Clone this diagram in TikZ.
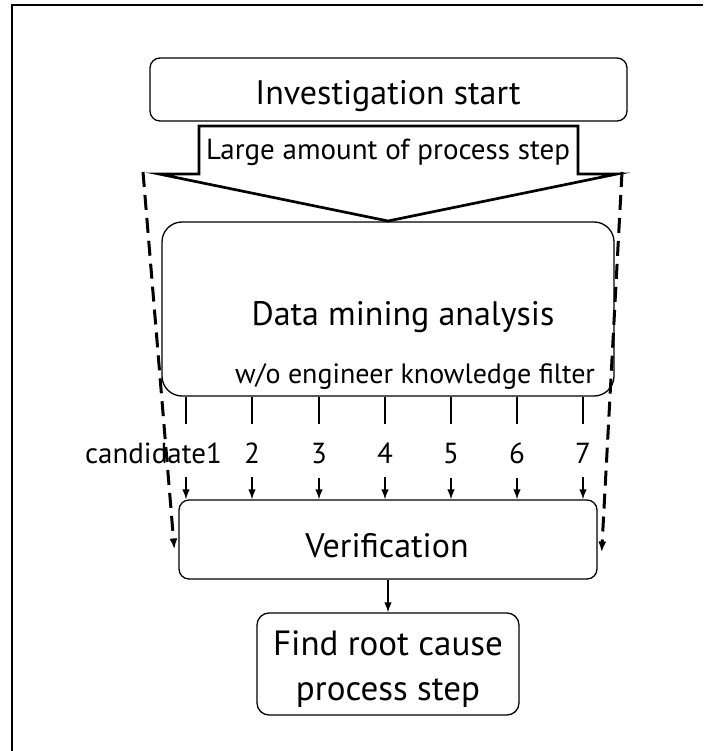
\documentclass[tikz,border=0pt]{standalone}
\usepackage{fontspec}
\setmainfont{PT Sans}
\usetikzlibrary{arrows.meta}
\begin{document}
\begin{tikzpicture}[x=1pt,y=-1pt,
  box/.style={draw, line width=1.3pt, inner sep=0pt},
  bigtxt/.style={inner sep=0pt, anchor=base, font=\fontsize{34}{40}\selectfont},
  findtxt/.style={inner sep=0pt, anchor=base, font=\fontsize{35}{40}\selectfont},
  midtxt/.style={inner sep=0pt, anchor=base, font=\fontsize{29}{34}\selectfont},
  wotxt/.style={inner sep=0pt, anchor=base, font=\fontsize{28}{34}\selectfont},
  lab/.style={inner sep=0pt, anchor=base, font=\fontsize{29}{34}\selectfont},
  conn/.style={line width=1.3pt},
  arr/.style={line width=1.3pt, -{Latex[length=10pt,width=7.5pt]}},
  dasharr/.style={line width=3pt, dash pattern=on 15pt off 8pt, -{Latex[length=11pt,width=8pt]}},
  frame/.style={line width=2pt}]
\useasboundingbox (0,0) rectangle (703,751);
% outer frame (top and left only)
\draw[frame] (12,751) -- (12,5) -- (703,5);

% Investigation start
\node[box, rounded corners=10pt, minimum width=477pt, minimum height=63pt] (inv) at (388.5,89.5) {};
\node[bigtxt] (invt) at (388,105) {Investigation start};

% big down arrow
\draw[line width=2.7pt, line join=miter] (199,126) -- (578,126) -- (578,174) -- (617,174)
  -- (388,221) -- (159,174) -- (199,174) -- cycle;
\coordinate (tip) at (388,221);
\node[midtxt] (large) at (388,160) {Large amount of process step};

% Data mining box
\node[box, rounded corners=20pt, minimum width=452pt, minimum height=174pt] (data) at (388,309) {};
\node[bigtxt] (datat) at (403,325) {Data mining analysis};
\node[wotxt] (wo) at (415,383) {w/o engineer knowledge filter};

% Verification box
\node[box, rounded corners=10pt, minimum width=418pt, minimum height=79pt] (ver) at (388,539.5) {};
\node[bigtxt] (vert) at (387,557) {Verification};

% Find root cause box
\node[box, rounded corners=12pt, minimum width=262pt, minimum height=102pt] (find) at (388,664) {};
\node[findtxt] (findt) at (388,655) {Find root cause};
\node[findtxt] (findt2) at (388,700) {process step};

% candidates
\coordinate (k1) at (186,463);
\node[lab, anchor=base east] (c1) at (222,463) {candidate1};
\draw[conn] (data.south -| k1) -- ++(0,27);
\draw[arr] ([yshift=-14pt]k1) -- (ver.north -| k1);
\foreach \i/\x in {2/252,3/319,4/385,5/451,6/517,7/583} {
  \node[lab] (l\i) at (\x,463) {\i};
  \draw[conn] (data.south -| l\i) -- ++(0,27);
  \draw[arr] ([yshift=-14pt]l\i.south) -- (ver.north -| l\i);
}

% verification to find
\draw[arr] (ver.south) -- (find.north);

% dashed side arrows
\coordinate (dl) at (143,172);
\coordinate (dr) at (622,172);
\draw[dasharr] (dl) -- ([xshift=-4pt,yshift=-10pt]ver.west);
\draw[dasharr] (dr) -- ([xshift=4pt,yshift=-13pt]ver.east);
\end{tikzpicture}
\end{document}
